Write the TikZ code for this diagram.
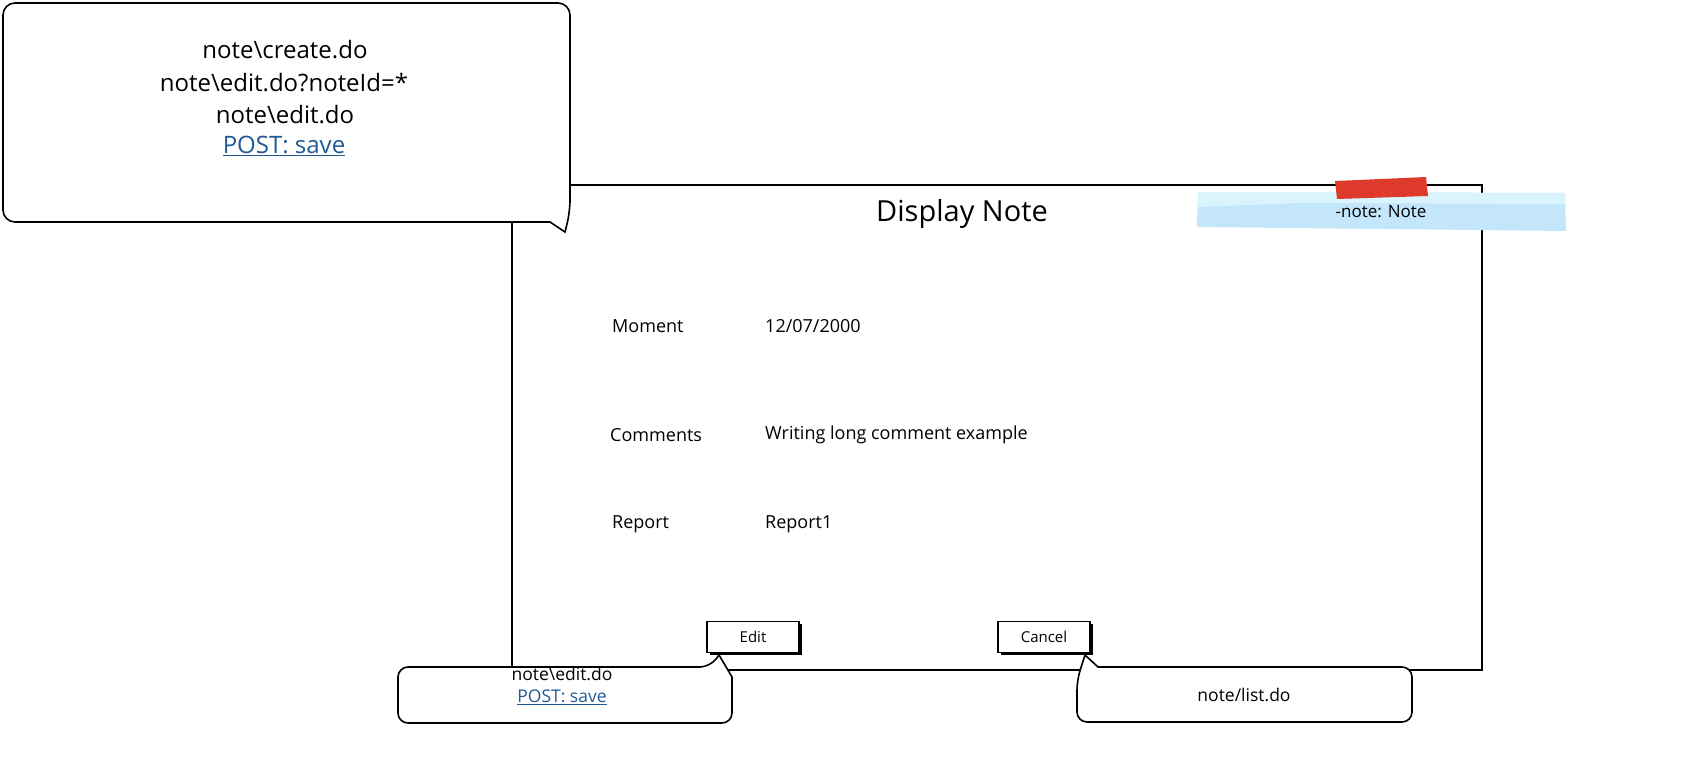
\documentclass[tikz,border=0pt]{standalone}
\usepackage{fontspec}
\setmainfont{Open Sans}
\usetikzlibrary{shadows}
\definecolor{linkblue}{HTML}{1F5A96}
\definecolor{stickyblue}{HTML}{C3E6FB}
\definecolor{stickylight}{HTML}{D9F4FD}
\definecolor{tapered}{HTML}{DD3A2B}
\tikzset{
  frame/.style={draw=black, line width=1.6pt},
  bubble/.style={draw=black, line width=1.6pt, fill=white},
  lbl/.style={font=\fontsize{18}{21}\selectfont, anchor=west, inner sep=0pt},
  url/.style={font=\fontsize{24}{28}\selectfont, inner sep=0pt},
  smallurl/.style={font=\fontsize{17.5}{20}\selectfont, inner sep=0pt},
  btn/.style={draw=black, line width=1.4pt, fill=white, minimum width=92pt, minimum height=31pt,
    font=\fontsize{15}{17}\selectfont, inner sep=0pt,
    drop shadow={shadow xshift=2.5pt, shadow yshift=-2.5pt, opacity=1, fill=black}},
}
\begin{document}
\begin{tikzpicture}[x=1pt,y=-1pt]
\useasboundingbox (0,0) rectangle (1681,778);
% main window
\node[frame, anchor=north west, minimum width=970pt, minimum height=485pt, inner sep=0pt] (win) at (511,184) {};
\node[font=\fontsize{29}{34}\selectfont, inner sep=0pt] (title) at (962,214) {Display Note};
% sticky note
\fill[stickyblue] (1198,192) -- (1565,193) -- (1566,231) -- (1197,227) -- cycle;
\fill[stickylight] (1198,192) -- (1565,193) -- (1565,204) -- (1300,203) -- (1198,207) -- cycle;
\fill[tapered] (1335,181) -- (1426,177) -- (1428,196) -- (1337,199) -- cycle;
\node[font=\fontsize{17}{20}\selectfont, inner sep=0pt] (sticky) at (1381,212) {-note: Note};
% form
\node[lbl] (mom) at (612,326) {Moment};
\node[lbl] (momv) at (765,326) {12/07/2000};
\node[lbl] (com) at (610,435) {Comments};
\node[lbl] (comv) at (765,435) {Writing long comment example};
\node[lbl] (rep) at (612,524) {Report};
\node[lbl] (repv) at (765,524) {Report1};
% buttons
\node[btn] (edit) at (753,637) {Edit};
\node[btn] (cancel) at (1044,637) {Cancel};
% top-left callout
\draw[bubble, rounded corners=12pt] (3,3) -- (570,3) -- (570,212) [sharp corners] -- (565,232) -- (550,222) [rounded corners=12pt] -- (3,222) -- cycle;
\node[url] (u1) at (285,50) {note\textbackslash create.do};
\node[url] (u2) at (284,83) {note\textbackslash edit.do?noteId=*};
\node[url] (u3) at (285,115) {note\textbackslash edit.do};
\node[url, text=linkblue] (u4) at (284,146) {\underline{POST: save}};
% bottom-left callout
\draw[bubble, rounded corners=10pt] (398,695) -- (398,667) -- (710,667) [sharp corners] -- (719,655) -- (732,677) [rounded corners=10pt] -- (732,723) -- (398,723) -- cycle;
\node[smallurl] (b1) at (562,674) {note\textbackslash edit.do};
\node[smallurl, text=linkblue] (b2) at (562,697) {\underline{POST: save}};
% bottom-right callout
\draw[bubble, rounded corners=10pt] (1412,695) -- (1412,722) -- (1077,722) -- (1077,680) [sharp corners] -- (1085,655) -- (1098,667) [rounded corners=10pt] -- (1412,667) -- cycle;
\node[smallurl] (b3) at (1244,695) {note/list.do};
\end{tikzpicture}
\end{document}
